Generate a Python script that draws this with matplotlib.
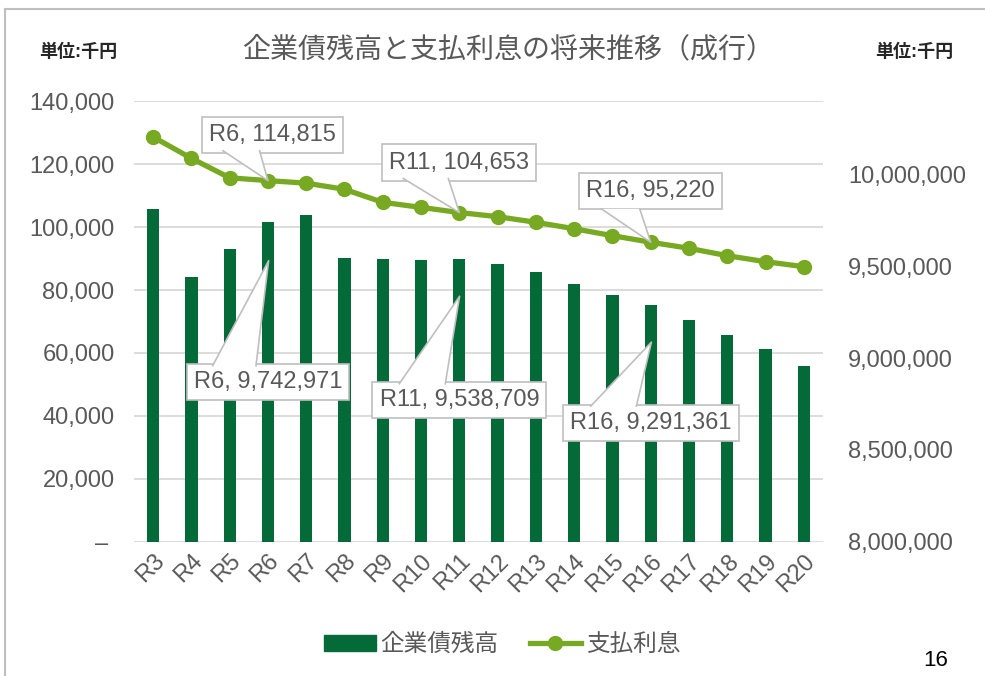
import numpy as np
import matplotlib.pyplot as plt
from matplotlib.lines import Line2D
from matplotlib.patches import Polygon
from matplotlib.transforms import Affine2D
from matplotlib.ticker import FuncFormatter

plt.rcParams['font.family'] = ['Liberation Sans', 'Noto Sans CJK JP']

# データ（単位:千円）
years = ['R3', 'R4', 'R5', 'R6', 'R7', 'R8', 'R9', 'R10', 'R11', 'R12',
         'R13', 'R14', 'R15', 'R16', 'R17', 'R18', 'R19', 'R20']
zandaka = [9815000, 9442000, 9597000, 9742971, 9783000, 9548000, 9542000,
           9533000, 9538709, 9511000, 9469000, 9407000, 9347000, 9291361,
           9211000, 9129000, 9052000, 8960000]
rishi = [128700, 121900, 115700, 114815, 114000, 112050, 107900, 106300,
         104653, 103350, 101550, 99520, 97300, 95220, 93290, 90940, 89030,
         87440]
label_idx = [3, 8, 13]

c_bar = '#046A38'
c_line = '#78A922'
c_text = '#595959'
c_grid = '#D9D9D9'
c_box = '#BFBFBF'

fig = plt.figure(figsize=(9.85, 6.76), dpi=100)
ax = fig.add_axes([0.136, 0.1987, 0.6995, 0.6513])
ax2 = ax.twinx()
ax3 = ax.twinx()

x = np.arange(len(years))

# 左軸（支払利息）と目盛線
ax.set_ylim(0, 140000)
ax.set_yticks(np.arange(0, 140001, 20000))
ax.yaxis.set_major_formatter(FuncFormatter(lambda v, p: '– ' if v == 0 else f'{int(v):,}'))
ax.grid(axis='y', color=c_grid, lw=1.3)
ax.set_axisbelow(True)
ax.set_xlim(-0.5, len(years) - 0.5)
ax.set_xticks(x)
ax.set_xticklabels(years, rotation=45, ha='right', rotation_mode='anchor')
ax.tick_params(axis='x', length=0, pad=6, labelsize=17, labelcolor=c_text)
ax.tick_params(axis='y', length=0, pad=14, labelsize=17, labelcolor=c_text)

# 右軸（企業債残高）
ax2.bar(x, zandaka, width=0.32, color=c_bar, zorder=2)
ax2.set_ylim(8000000, 10400000)
ax2.set_yticks(np.arange(8000000, 10000001, 500000))
ax2.yaxis.set_major_formatter(FuncFormatter(lambda v, p: f'{int(v):,}'))
ax2.tick_params(axis='y', length=0, pad=18, labelsize=17, labelcolor=c_text)

# 折れ線（左軸と同じ目盛）
ax3.plot(x, rishi, color=c_line, lw=3.8, marker='o', ms=10, zorder=3)
ax3.set_ylim(0, 140000)
ax3.set_yticks([])

for a in (ax, ax2, ax3):
    for s in a.spines.values():
        s.set_visible(False)

box = dict(boxstyle='square,pad=0.3', fc='white', ec=c_box, lw=1.2)


def callout(a, i, val, box_off, tip, base_l, base_r):
    # 吹き出し：テキスト枠＋三角の指し示し（単位はポイント、基準点からのずれ）
    a.annotate(f'{years[i]}, {val:,}', xy=(i, val), xytext=box_off,
               textcoords='offset points', ha='center', va='center',
               fontsize=17, color=c_text, bbox=box, zorder=4)
    x0, y0 = a.transData.transform((i, val))
    tr = Affine2D().scale(fig.dpi / 72).translate(x0, y0)
    a.add_patch(Polygon([base_l, tip, base_r], closed=True, transform=tr,
                        fc='white', ec='none', zorder=5, clip_on=False))
    px, py = zip(base_l, tip, base_r)
    a.add_line(Line2D(px, py, transform=tr, color=c_box, lw=1.2, zorder=5,
                      clip_on=False))


line_box = [(3, 33), (0, 36), (0, 37)]
line_base = [((-32.4, 21.5), (-6.0, 21.5)),
             ((-40.3, 24.5), (-7.9, 24.5)),
             ((-35.5, 24.0), (-7.9, 24.0))]
for i, bo, (bl, br) in zip(label_idx, line_box, line_base):
    callout(ax3, i, rishi[i], bo, (0, 0), bl, br)

bar_box = [(0, -115), (0, -101), (0, -85)]
bar_tip = [(0.5, -27.9), (0.2, -26.5), (0.5, -26.9)]
bar_base = [((-39.8, -103.5), (-8.6, -103.5)),
            ((-43.2, -89.5), (-10.1, -89.5)),
            ((-43.2, -73.0), (-10.3, -73.0))]
for i, bo, t, (bl, br) in zip(label_idx, bar_box, bar_tip, bar_base):
    callout(ax2, i, zandaka[i], bo, t, bl, br)

# タイトル・単位
fig.text(0.5155, 0.926, '企業債残高と支払利息の将来推移（成行）', ha='center', va='center',
         fontsize=20.2, color=c_text)
fig.text(0.04, 0.922, '単位:千円', ha='left', va='center', fontsize=13,
         color='#262626', fontweight='bold')
fig.text(0.888, 0.922, '単位:千円', ha='left', va='center', fontsize=13,
         color='#262626', fontweight='bold')
fig.text(0.95, 0.023, '16', ha='center', va='center', fontsize=16, color='black')

# 凡例
h1 = plt.Rectangle((0, 0), 1, 1, color=c_bar)
h2 = Line2D([], [], color=c_line, lw=3.8, marker='o', ms=10)
fig.legend([h1, h2], ['企業債残高', '支払利息'], loc='center', ncol=2,
           bbox_to_anchor=(0.51, 0.046), frameon=False, fontsize=17,
           labelcolor=c_text, handlelength=2.2, handletextpad=0.2,
           columnspacing=1.3)

# スライドの枠
fig.add_artist(Line2D([0.005, 1], [0.987, 0.987], color=c_box, lw=1.5))
fig.add_artist(Line2D([0.005, 0.005], [0, 0.987], color=c_box, lw=1.5))

fig.savefig('out.png', dpi=100)
